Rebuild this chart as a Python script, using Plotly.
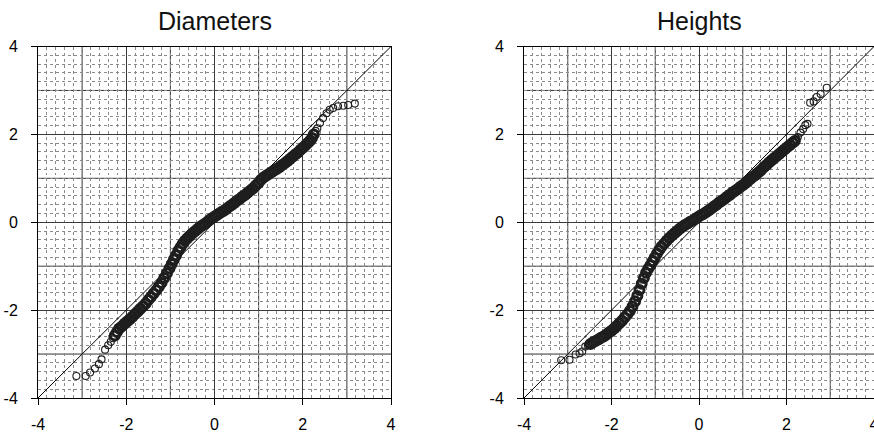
import plotly.graph_objects as go

# ---- Normal Q-Q data: x = theoretical quantile, y = standardized sample ----
# Diameters: sparse tail points
diam_tail_x = [-3.13, -2.92, -2.82, -2.71, -2.62, -2.56, -2.48, -2.41, -2.35, -2.30,
               2.29, 2.33, 2.39, 2.46, 2.54, 2.61, 2.69, 2.80, 2.92, 3.03, 3.18]
diam_tail_y = [-3.50, -3.50, -3.42, -3.33, -3.23, -3.12, -2.90, -2.80, -2.72, -2.64,
               2.08, 2.14, 2.26, 2.37, 2.48, 2.56, 2.60, 2.64, 2.65, 2.67, 2.70]

# Diameters: dense central band
diam_x = [-2.26, -2.21, -2.16, -2.10, -2.04, -1.98, -1.92, -1.86, -1.80, -1.74,
          -1.68, -1.62, -1.56, -1.50, -1.44, -1.38, -1.32, -1.26, -1.20, -1.14,
          -1.08, -1.02, -0.97, -0.92, -0.87, -0.82, -0.77, -0.72, -0.67, -0.62,
          -0.57, -0.51, -0.45, -0.39, -0.33, -0.27, -0.21, -0.15, -0.09, -0.03,
          0.03, 0.09, 0.15, 0.21, 0.27, 0.33, 0.39, 0.45, 0.51, 0.57,
          0.63, 0.69, 0.75, 0.81, 0.87, 0.93, 0.99, 1.05, 1.11, 1.17,
          1.23, 1.29, 1.35, 1.41, 1.47, 1.53, 1.59, 1.65, 1.71, 1.77,
          1.83, 1.89, 1.95, 2.01, 2.07, 2.12, 2.17, 2.21, 2.25]
diam_y = [-2.58, -2.50, -2.42, -2.37, -2.31, -2.26, -2.21, -2.15, -2.09, -2.03,
          -1.97, -1.91, -1.85, -1.77, -1.70, -1.62, -1.55, -1.47, -1.38, -1.27,
          -1.16, -1.05, -0.95, -0.85, -0.75, -0.65, -0.57, -0.49, -0.42, -0.37,
          -0.32, -0.26, -0.21, -0.16, -0.11, -0.07, -0.03, 0.02, 0.07, 0.11,
          0.15, 0.19, 0.23, 0.26, 0.30, 0.35, 0.39, 0.44, 0.49, 0.53,
          0.58, 0.62, 0.67, 0.72, 0.77, 0.83, 0.89, 0.96, 1.02, 1.06,
          1.10, 1.14, 1.18, 1.21, 1.25, 1.30, 1.34, 1.39, 1.44, 1.49,
          1.54, 1.59, 1.65, 1.70, 1.76, 1.81, 1.86, 1.92, 2.00]

# Heights: sparse tail points
height_tail_x = [-3.15, -2.96, -2.82, -2.73, -2.67, -2.60, -2.54,
                 2.23, 2.26, 2.32, 2.38, 2.43, 2.48,
                 2.54, 2.62, 2.69, 2.78, 2.92]
height_tail_y = [-3.14, -3.13, -3.01, -2.98, -2.94, -2.83, -2.80,
                 1.89, 1.94, 2.04, 2.12, 2.21, 2.24,
                 2.72, 2.75, 2.85, 2.92, 3.06]

# Heights: dense central band
height_x = [-2.48, -2.42, -2.36, -2.30, -2.24, -2.18, -2.12, -2.06, -2.00, -1.94,
            -1.88, -1.82, -1.76, -1.70, -1.64, -1.58, -1.52, -1.46, -1.41, -1.36,
            -1.31, -1.26, -1.21, -1.16, -1.11, -1.06, -1.01, -0.96, -0.91, -0.86,
            -0.80, -0.74, -0.68, -0.62, -0.56, -0.50, -0.44, -0.38, -0.32, -0.26,
            -0.20, -0.14, -0.08, -0.02, 0.04, 0.10, 0.16, 0.22, 0.28, 0.34,
            0.40, 0.46, 0.52, 0.58, 0.64, 0.70, 0.76, 0.82, 0.88, 0.94,
            1.00, 1.06, 1.12, 1.18, 1.24, 1.30, 1.36, 1.42, 1.48, 1.54,
            1.60, 1.66, 1.72, 1.78, 1.84, 1.90, 1.96, 2.02, 2.08, 2.14, 2.19]
height_y = [-2.77, -2.73, -2.70, -2.67, -2.63, -2.60, -2.56, -2.51, -2.47, -2.42,
            -2.36, -2.30, -2.24, -2.17, -2.10, -2.02, -1.92, -1.80, -1.68, -1.54,
            -1.40, -1.27, -1.15, -1.06, -0.98, -0.89, -0.80, -0.71, -0.63, -0.56,
            -0.49, -0.42, -0.36, -0.30, -0.25, -0.20, -0.15, -0.10, -0.06, -0.03,
            0.01, 0.04, 0.08, 0.12, 0.16, 0.19, 0.23, 0.27, 0.31, 0.36,
            0.40, 0.45, 0.49, 0.53, 0.58, 0.62, 0.67, 0.71, 0.75, 0.80,
            0.84, 0.89, 0.94, 0.99, 1.04, 1.08, 1.14, 1.19, 1.25, 1.30,
            1.36, 1.41, 1.46, 1.51, 1.56, 1.61, 1.66, 1.71, 1.76, 1.81, 1.85]

# Reference line y = x
ref_line = [-4, 4]

panel_titles = ["Diameters", "Heights"]
tick_values = [-4, -2, 0, 2, 4]
odd_grid = [-3, -1, 1, 3]

FONT = "Liberation Sans, Arial, Helvetica, sans-serif"
INK = "#1e1e1e"

fig = go.Figure()

panels = [
    ("x", "y", diam_tail_x, diam_tail_y, diam_x, diam_y),
    ("x2", "y2", height_tail_x, height_tail_y, height_x, height_y),
]
for xa, ya, tx, ty, bx, by in panels:
    fig.add_trace(go.Scatter(x=ref_line, y=ref_line, mode="lines",
                             line=dict(color="black", width=1),
                             xaxis=xa, yaxis=ya, hoverinfo="skip"))
    fig.add_trace(go.Scatter(x=bx, y=by, mode="markers",
                             marker=dict(symbol="circle-open", size=9, color=INK,
                                         line=dict(width=3, color=INK)),
                             xaxis=xa, yaxis=ya))
    fig.add_trace(go.Scatter(x=tx, y=ty, mode="markers",
                             marker=dict(symbol="circle-open", size=7, color=INK,
                                         line=dict(width=1.1, color=INK)),
                             xaxis=xa, yaxis=ya))

W, H = 874, 434
x_domains = [[38 / W, 391 / W], [524 / W, 1.0]]
y_domain = [1 - 398 / H, 1 - 46.5 / H]

def axis_style(domain, anchor):
    return dict(
        domain=domain, anchor=anchor, range=[-4, 4],
        tickmode="array", tickvals=tick_values,
        ticktext=[str(v) for v in tick_values],
        ticks="outside", ticklen=6, tickwidth=1, tickcolor="black",
        tickfont=dict(family=FONT, size=16, color="black"),
        showline=True, linecolor="black", linewidth=1, mirror=True,
        showgrid=True, gridcolor="#3a3a3a", gridwidth=1,
        zeroline=False,
        minor=dict(dtick=0.2, tick0=0, showgrid=True, gridcolor="#8a8a8a",
                   gridwidth=1, griddash="dot", ticks=""),
        ticklabeloverflow="allow",
        fixedrange=True,
    )

layout_axes = {}
for i, (xa, ya) in enumerate([("x", "y"), ("x2", "y2")]):
    sx = "" if i == 0 else "2"
    layout_axes["xaxis" + sx] = axis_style(x_domains[i], ya)
    layout_axes["yaxis" + sx] = axis_style(y_domain, xa)
    layout_axes["xaxis" + sx]["ticklabelstandoff"] = 6
    layout_axes["yaxis" + sx]["ticklabelstandoff"] = 10

# solid major lines at the odd integers (between the labelled ticks)
shapes = []
for i, (xa, ya) in enumerate([("x", "y"), ("x2", "y2")]):
    for v in odd_grid:
        shapes.append(dict(type="line", xref=xa, yref="paper",
                           x0=v, x1=v, y0=y_domain[0], y1=y_domain[1], layer="below",
                           line=dict(color="#333333", width=1)))
        shapes.append(dict(type="line", xref="paper", yref=ya,
                           x0=x_domains[i][0], x1=x_domains[i][1],
                           y0=v, y1=v, layer="below",
                           line=dict(color="#333333", width=1)))

annotations = []
for i, t in enumerate(panel_titles):
    annotations.append(dict(text=t, xref="paper", yref="paper",
                            x=(x_domains[i][0] + x_domains[i][1]) / 2,
                            y=1 - 21 / H, xanchor="center", yanchor="middle",
                            showarrow=False,
                            font=dict(family=FONT, size=25, color="#111")))

fig.update_layout(
    width=W, height=H,
    margin=dict(l=0, r=0, t=0, b=0, autoexpand=False),
    paper_bgcolor="white", plot_bgcolor="white",
    showlegend=False,
    shapes=shapes, annotations=annotations,
    **layout_axes,
)

fig.write_html("out.html", config={"displayModeBar": False})
